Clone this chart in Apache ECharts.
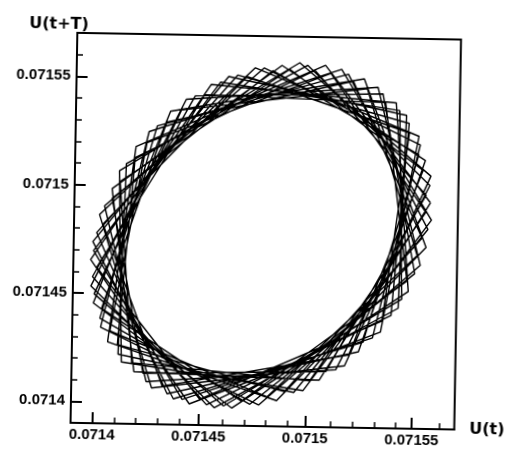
<!DOCTYPE html>
<html>
<head>
<meta charset="utf-8">
<script src="https://cdn.jsdelivr.net/npm/echarts@6/dist/echarts.min.js"></script>
<style>
  html, body { margin: 0; padding: 0; background: #fff; }
  /* the scanned figure sits about one degree clockwise */
  #chart { width: 511px; height: 452px; transform: rotate(1deg); transform-origin: 50% 50%; }
</style>
</head>
<body>
<div id="chart"></div>
<script>
// phase portrait samples: U(t) and U(t+T)
const uT = [
  0.0715570, 0.0715063, 0.0714193, 0.0714076, 0.0714863, 0.0715543, 0.0715244, 0.0714350,
  0.0714007, 0.0714656, 0.0715464, 0.0715394, 0.0714536, 0.0713991, 0.0714459, 0.0715339,
  0.0715502, 0.0714739, 0.0714029, 0.0714283, 0.0715175, 0.0715560, 0.0714944, 0.0714117,
  0.0714141, 0.0714984, 0.0715566, 0.0715139, 0.0714251, 0.0714042, 0.0714780, 0.0715518,
  0.0715309, 0.0714421, 0.0713994, 0.0714576, 0.0715419, 0.0715443, 0.0714616, 0.0714000,
  0.0714395, 0.0715265, 0.0715512, 0.0714820, 0.0714077, 0.0714236, 0.0715093, 0.0715549,
  0.0715018, 0.0714182, 0.0714113, 0.0714900, 0.0715533, 0.0715199, 0.0714327, 0.0714036,
  0.0714700, 0.0715466, 0.0715352, 0.0714504, 0.0714010, 0.0714504, 0.0715352, 0.0715466,
  0.0714700, 0.0714036, 0.0714327, 0.0715199, 0.0715533, 0.0714900, 0.0714113, 0.0714182,
  0.0715018, 0.0715549, 0.0715093, 0.0714236, 0.0714077, 0.0714820, 0.0715512, 0.0715265,
  0.0714380, 0.0713990, 0.0714614, 0.0715451, 0.0715427, 0.0714573, 0.0713984, 0.0714417,
  0.0715315, 0.0715527, 0.0714780, 0.0714033, 0.0714245, 0.0715143, 0.0715576, 0.0714987,
  0.0714133, 0.0714109, 0.0714946, 0.0715570, 0.0715180, 0.0714277, 0.0714019, 0.0714738,
  0.0715511, 0.0715346, 0.0714455, 0.0713981, 0.0714533, 0.0715402, 0.0715473, 0.0714655,
  0.0713997, 0.0714344, 0.0715250, 0.0715553, 0.0714864, 0.0714067, 0.0714185, 0.0715067,
  0.0715570
];
const uTplusT = [
  0.0714944, 0.0714117, 0.0714141, 0.0714984, 0.0715566, 0.0715139, 0.0714251, 0.0714042,
  0.0714780, 0.0715518, 0.0715309, 0.0714421, 0.0713994, 0.0714576, 0.0715419, 0.0715443,
  0.0714616, 0.0714000, 0.0714385, 0.0715277, 0.0715531, 0.0714821, 0.0714058, 0.0714221,
  0.0715101, 0.0715569, 0.0715024, 0.0714166, 0.0714096, 0.0714904, 0.0715553, 0.0715210,
  0.0714316, 0.0714017, 0.0714697, 0.0715484, 0.0715367, 0.0714497, 0.0713990, 0.0714497,
  0.0715352, 0.0715466, 0.0714700, 0.0714036, 0.0714327, 0.0715199, 0.0715533, 0.0714900,
  0.0714113, 0.0714182, 0.0715018, 0.0715549, 0.0715093, 0.0714236, 0.0714077, 0.0714820,
  0.0715512, 0.0715265, 0.0714395, 0.0714019, 0.0714620, 0.0715426, 0.0715403, 0.0714581,
  0.0714014, 0.0714430, 0.0715295, 0.0715499, 0.0714780, 0.0714061, 0.0714265, 0.0715130,
  0.0715546, 0.0714979, 0.0714157, 0.0714134, 0.0714940, 0.0715541, 0.0715165, 0.0714295,
  0.0714019, 0.0714738, 0.0715511, 0.0715346, 0.0714455, 0.0713981, 0.0714533, 0.0715402,
  0.0715473, 0.0714655, 0.0713997, 0.0714344, 0.0715250, 0.0715553, 0.0714864, 0.0714067,
  0.0714185, 0.0715067, 0.0715580, 0.0715067, 0.0714185, 0.0714067, 0.0714864, 0.0715553,
  0.0715250, 0.0714344, 0.0713997, 0.0714655, 0.0715473, 0.0715402, 0.0714533, 0.0713981,
  0.0714455, 0.0715346, 0.0715511, 0.0714738, 0.0714019, 0.0714277, 0.0715180, 0.0715570,
  0.0714944
];

const axisMin = 0.07139;
const axisMax = 0.07157;
const majorTicks = [0.0714, 0.07145, 0.0715, 0.07155];
const tickLabels = ['0.0714', '0.07145', '0.0715', '0.07155'];
const minorTicks = [0.07141, 0.07142, 0.07143, 0.07144, 0.07146, 0.07147, 0.07148, 0.07149,
                    0.07151, 0.07152, 0.07153, 0.07154, 0.07156];

const pairs = uT.map((u, i) => [u, uTplusT[i]]);

const labelFont = { color: '#000', fontFamily: 'Liberation Sans', fontWeight: 'bold', fontSize: 15 };
const nameFont = { color: '#000', fontFamily: 'DejaVu Sans', fontWeight: 'bold', fontSize: 16 };
const fmt = (v) => {
  const k = majorTicks.findIndex(t => Math.abs(t - v) < 1e-9);
  return k >= 0 ? tickLabels[k] : '';
};

const gridBox = { left: 74, top: 36, right: 47, bottom: 26 };

const majorAxis = (isX) => ({
  type: 'value',
  gridIndex: 0,
  min: axisMin,
  max: axisMax,
  position: isX ? 'bottom' : 'left',
  axisLine: { show: true, onZero: false, lineStyle: { color: '#000', width: 2 } },
  axisTick: { show: true, inside: true, length: 11, customValues: majorTicks, lineStyle: { color: '#000', width: 2 } },
  axisLabel: { show: true, customValues: majorTicks, formatter: fmt, margin: isX ? 4 : 6, ...labelFont },
  splitLine: { show: false }
});

// second grid on the same box only carries the short minor ticks
const minorAxis = (isX) => ({
  type: 'value',
  gridIndex: 1,
  min: axisMin,
  max: axisMax,
  position: isX ? 'bottom' : 'left',
  axisLine: { show: false },
  axisTick: { show: true, inside: true, length: 6, customValues: minorTicks, lineStyle: { color: '#000', width: 1.5 } },
  axisLabel: { show: false },
  splitLine: { show: false }
});

const chart = echarts.init(document.getElementById('chart'), null, { renderer: 'canvas' });

chart.setOption({
  animation: false,
  backgroundColor: '#fff',
  grid: [
    { ...gridBox, show: true, borderColor: '#000', borderWidth: 2, backgroundColor: 'transparent' },
    { ...gridBox, show: false }
  ],
  xAxis: [
    { ...majorAxis(true), name: 'U(t)', nameLocation: 'end', nameGap: 15, nameTextStyle: { ...nameFont, verticalAlign: 'middle' } },
    minorAxis(true)
  ],
  yAxis: [
    { ...majorAxis(false), name: 'U(t+T)', nameLocation: 'end', nameGap: 0, nameTextStyle: { ...nameFont, align: 'center', padding: [0, 37, 0, 0] } },
    minorAxis(false)
  ],
  series: [
    {
      type: 'line',
      xAxisIndex: 0,
      yAxisIndex: 0,
      data: pairs,
      showSymbol: false,
      smooth: false,
      lineStyle: { color: '#000', width: 1.4 }
    }
  ]
});
</script>
</body>
</html>
